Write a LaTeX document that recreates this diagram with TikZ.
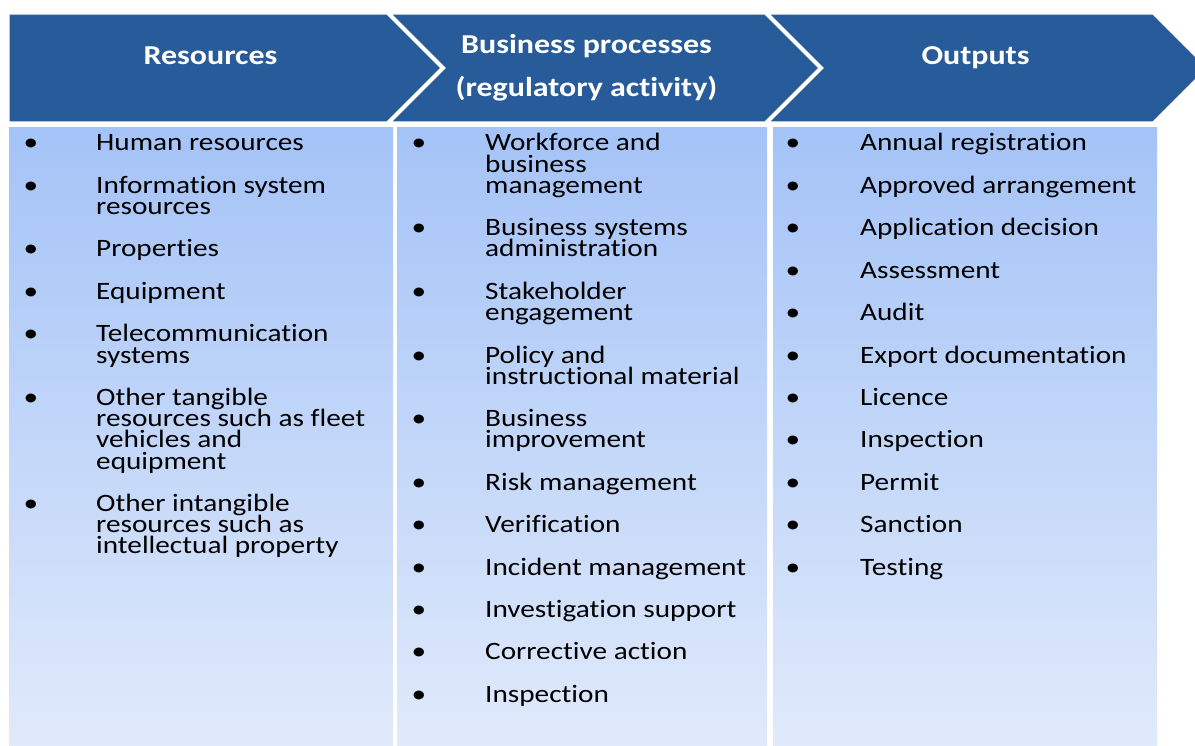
\documentclass[tikz,border=0pt]{standalone}
\usepackage{fontspec}
\newfontfamily\calfont[FakeStretch=1.17,Ligatures={NoCommon}]{Carlito}
\definecolor{hdrblue}{RGB}{40,91,153}
\definecolor{bodytop}{RGB}{164,195,247}
\definecolor{bodybot}{RGB}{226,235,251}
\tikzset{
  hdr/.style={fill=hdrblue, draw=white, line width=1.2pt, line join=miter},
  colbox/.style={top color=bodytop, bottom color=bodybot, draw=none, inner sep=0pt, anchor=north west},
  hdrtext/.style={text=white, font=\calfont\bfseries\fontsize{27.3}{43}\selectfont, inner sep=0pt, align=center, anchor=base},
  itemtext/.style={font=\calfont\fontsize{25}{21.2}\selectfont, inner sep=0pt, align=left, anchor=base west},
  bul/.style={font=\calfont\fontsize{25}{21.2}\selectfont, inner sep=0pt, anchor=base}
}
% name, bullet x, text x, first baseline, number of lines, text
\newcommand\bitem[6]{%
  \node[bul] (#1b) at (#2,#4) {\textbullet};
  \node[itemtext] (#1) at (#3,{#4+21.2*(#5-1)}) {#6};}
\begin{document}
\lineskiplimit=-100pt
\lineskip=0pt
\begin{tikzpicture}[x=1pt,y=-1pt]
\useasboundingbox (0,0) rectangle (1195,746);
\clip (0,0) rectangle (1195,746);
% column boxes
\node[colbox, minimum width=384pt, minimum height=640pt] (c1) at (9,127) {};
\node[colbox, minimum width=370pt, minimum height=640pt] (c2) at (397,127) {};
\node[colbox, minimum width=384pt, minimum height=640pt] (c3) at (773,127) {};
% header chevrons
\draw[hdr] (9,14) -- (387,14) -- (441,68) -- (387,122) -- (9,122) -- cycle;
\draw[hdr] (391,14) -- (765,14) -- (819,68) -- (765,122) -- (391,122) -- (445,68) -- cycle;
\draw[hdr] (769,14) -- (1153,14) -- (1207,68) -- (1153,122) -- (769,122) -- (823,68) -- cycle;
% header texts
\node[hdrtext] (h1) at (210.5,65) {Resources};
\node[hdrtext] (h2) at (586.5,97) {Business processes\\(regulatory activity)};
\node[hdrtext] (h3) at (975.5,65) {Outputs};
% column 1
\bitem{a1}{31}{96}{151}{1}{Human resources}
\bitem{a2}{31}{96}{193.4}{2}{Information system\\resources}
\bitem{a3}{31}{96}{257}{1}{Properties}
\bitem{a4}{31}{96}{299.4}{1}{Equipment}
\bitem{a5}{31}{96}{341.8}{2}{Telecommunication\\systems}
\bitem{a6}{31}{96}{405.4}{4}{Other tangible\\resources such as fleet\\vehicles and\\equipment}
\bitem{a7}{31}{96}{511.4}{3}{Other intangible\\resources such as\\intellectual property}
% column 2
\bitem{b1}{419}{485}{151}{3}{Workforce and\\business\\management}
\bitem{b2}{419}{485}{235.8}{2}{Business systems\\administration}
\bitem{b3}{419}{485}{299.4}{2}{Stakeholder\\engagement}
\bitem{b4}{419}{485}{363}{2}{Policy and\\instructional material}
\bitem{b5}{419}{485}{426.6}{2}{Business\\improvement}
\bitem{b6}{419}{485}{490.2}{1}{Risk management}
\bitem{b7}{419}{485}{532.6}{1}{Verification}
\bitem{b8}{419}{485}{575}{1}{Incident management}
\bitem{b9}{419}{485}{617.4}{1}{Investigation support}
\bitem{b10}{419}{485}{659.8}{1}{Corrective action}
\bitem{b11}{419}{485}{702.2}{1}{Inspection}
% column 3
\bitem{d1}{793}{860}{151}{1}{Annual registration}
\bitem{d2}{793}{860}{193.4}{1}{Approved arrangement}
\bitem{d3}{793}{860}{235.8}{1}{Application decision}
\bitem{d4}{793}{860}{278.2}{1}{Assessment}
\bitem{d5}{793}{860}{320.6}{1}{Audit}
\bitem{d6}{793}{860}{363}{1}{Export documentation}
\bitem{d7}{793}{860}{405.4}{1}{Licence}
\bitem{d8}{793}{860}{447.8}{1}{Inspection}
\bitem{d9}{793}{860}{490.2}{1}{Permit}
\bitem{d10}{793}{860}{532.6}{1}{Sanction}
\bitem{d11}{793}{860}{575}{1}{Testing}
\end{tikzpicture}
\end{document}
